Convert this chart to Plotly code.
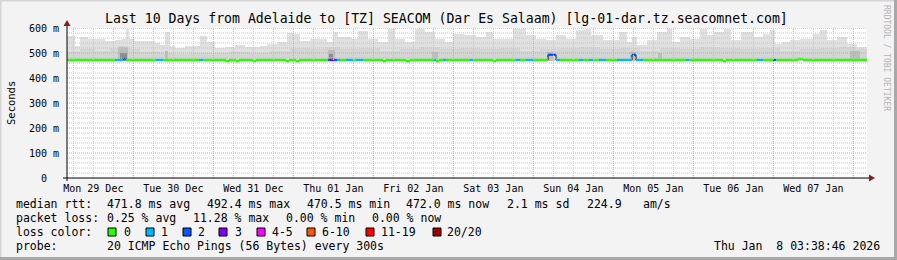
import numpy as np
import pandas as pd
import plotly.graph_objects as go

# ---------------- data (hours since 2025-12-29 00:00) ----------------
ORIGIN = pd.Timestamp("2025-12-29 00:00")
X0_H, X1_H = 4.1, 244.1

# smoke: outer (light) layer, step starts and top values (ms)
smoke_top_h = [4.1, 6.5, 8.0, 10.4, 15.5, 18.5, 20.6, 21.8, 22.7, 24.5, 30.5, 32.0, 33.5, 35.0,
               36.5, 39.5, 41.0, 44.0, 46.1, 48.5, 51.5, 54.5, 57.5, 62.0, 64.1, 67.1, 70.1,
               71.9, 74.0, 77.0, 82.1, 83.9, 85.4, 89.3, 91.4, 94.4, 97.4, 100.4, 102.5, 105.5,
               108.5, 111.5, 114.5, 117.5, 119.9, 123.5, 126.8, 129.8, 131.9, 137.9, 141.8,
               144.8, 147.8, 150.8, 153.8, 156.8, 159.8, 161.3, 164.9, 169.7, 172.1, 173.6,
               175.1, 178.1, 181.1, 184.1, 185.6, 188.0, 191.0, 194.0, 196.1, 198.2, 201.2,
               203.3, 206.3, 210.2, 212.9, 215.0, 216.5, 218.6, 221.0, 224.0, 227.9, 230.0,
               232.1, 235.1, 238.1, 241.1]
smoke_top_ms = [570, 530, 565, 555, 548, 552, 555, 598, 555, 548, 540, 532, 585, 530,
                522, 530, 528, 570, 545, 520, 525, 532, 525, 530, 535, 545, 580,
                575, 550, 555, 545, 585, 565, 555, 590, 558, 545, 596, 558, 545,
                596, 585, 558, 545, 578, 572, 565, 585, 558, 596, 572,
                558, 552, 572, 558, 592, 596, 572, 552, 585, 545, 565,
                532, 552, 585, 596, 545, 565, 558, 596, 572, 585, 596,
                552, 585, 565, 578, 592, 538, 545, 552, 558, 578, 592,
                552, 565, 538, 525]

# smoke: middle layer
smoke_mid_h = [4.1, 8.0, 12.5, 17.0, 19.4, 23.0, 26.0, 32.0, 36.5, 41.0, 53.0, 59.0, 65.0, 71.0,
               77.0, 81.5, 86.0, 92.0, 98.0, 104.0, 110.0, 116.0, 122.0, 128.0, 134.0, 140.0,
               146.0, 152.0, 158.0, 164.0, 170.0, 176.0, 182.0, 188.0, 194.0, 200.0, 206.0,
               212.0, 218.0, 224.0, 230.0, 236.0, 240.5]
smoke_mid_ms = [505, 515, 510, 520, 530, 515, 505, 500, 495, 500, 505, 500, 510, 520,
                515, 525, 515, 520, 510, 515, 525, 515, 520, 515, 520, 510,
                515, 520, 525, 515, 520, 510, 520, 515, 525, 520, 515,
                520, 510, 515, 520, 525, 515]

# smoke: dark patches (start h, end h, top ms)
dark_start_h = [19.4, 33.5, 82.4, 113.6, 148.1, 173.0, 181.4, 239.0]
dark_end_h = [22.4, 34.4, 84.5, 115.4, 149.9, 174.8, 182.6, 242.0]
dark_top_ms = [525, 510, 512, 505, 505, 505, 500, 510]
darkest_start_h = [20.0, 82.7]
darkest_end_h = [22.1, 83.9]
darkest_top_ms = [500, 495]
SMOKE_BASE = 469

# median rtt: base value and deviating segments (start h, end h, median ms, lost pings)
MED_BASE = 472
med_start_h = [18.5, 20.9, 30.8, 43.7, 51.8, 54.8, 59.9, 69.8, 72.8, 82.4, 83.0, 83.9, 85.1,
               87.8, 90.8, 98.9, 105.8, 113.9, 114.8, 116.9, 125.0, 131.9, 138.8, 141.8,
               148.4, 150.8, 157.7, 160.7, 163.7, 169.1, 173.6, 174.8, 189.8, 200.9, 211.1,
               215.9, 223.4]
med_end_h = [20.9, 21.8, 32.9, 44.9, 52.7, 55.7, 60.8, 70.7, 73.7, 83.0, 83.9, 85.1, 86.0,
             89.9, 92.9, 99.8, 107.0, 114.8, 115.7, 117.8, 125.9, 132.8, 140.0, 143.9,
             150.8, 152.0, 158.9, 161.9, 165.8, 173.6, 174.8, 176.9, 190.7, 201.8, 212.9,
             216.8, 224.9]
med_ms = [472, 478, 472, 472, 467, 467, 467, 467, 467, 472, 472, 472, 472,
          472, 472, 467, 467, 472, 467, 472, 472, 467, 472, 472,
          493, 472, 472, 472, 472, 472, 493, 472, 472, 467, 472,
          472, 476]
med_loss = [1, 2, 1, 1, 0, 0, 0, 0, 0, 2, 3, 2, 1,
            1, 1, 0, 0, 1, 0, 1, 1, 0, 1, 1,
            2, 1, 1, 1, 1, 1, 2, 1, 1, 0, 1,
            2, 0]

day_labels = ["Mon 29 Dec", "Tue 30 Dec", "Wed 31 Dec", "Thu 01 Jan", "Fri 02 Jan",
              "Sat 03 Jan", "Sun 04 Jan", "Mon 05 Jan", "Tue 06 Jan", "Wed 07 Jan"]
y_ticks = [0, 100, 200, 300, 400, 500, 600]
y_labels = ["0\u00a0\u00a0", "100 m", "200 m", "300 m", "400 m", "500 m", "600 m"]

loss_names = ["0", "1", "2", "3", "4-5", "6-10", "11-19", "20/20"]
loss_colors = ["#26ff00", "#00b8ff", "#0059ff", "#7e00ff", "#ff00ff", "#ff5500", "#ff0000", "#a10000"]


def loss_color(n):
    bounds = [0, 1, 2, 3, 5, 10, 19, 20]
    for b, c in zip(bounds, loss_colors):
        if n <= b:
            return c
    return loss_colors[-1]


def t(h):
    return ORIGIN + pd.to_timedelta(np.asarray(h, dtype=float), unit="h")


# ---------------- layout geometry ----------------
W, H = 897, 260
L, R, T, B = 67, 30, 28, 82
PW, PH = W - L - R, H - T - B
FONT = "DejaVu Sans Mono"


def px(x):
    return (x - L) / PW


def py(y):
    return (T + PH - y) / PH


fig = go.Figure()


def step_bars(starts, ends, tops, color):
    starts = np.asarray(starts, float)
    ends = np.asarray(ends, float)
    tops = np.asarray(tops, float)
    centers = t((starts + ends) / 2)
    widths = (ends - starts) * 3600 * 1000
    fig.add_trace(go.Bar(x=centers, y=tops - SMOKE_BASE, base=SMOKE_BASE, width=widths,
                         marker=dict(color=color, line=dict(width=0)), hoverinfo="skip",
                         showlegend=False))


step_bars(smoke_top_h, smoke_top_h[1:] + [X1_H], smoke_top_ms, "#e0e0e0")
step_bars(smoke_mid_h, smoke_mid_h[1:] + [X1_H], smoke_mid_ms, "#d5d5d5")
step_bars(dark_start_h, dark_end_h, dark_top_ms, "#bdbdbd")
step_bars(darkest_start_h, darkest_end_h, darkest_top_ms, "#8e8e8e")

# median segments
segs = []
cur = X0_H
for s, e, v, l in sorted(zip(med_start_h, med_end_h, med_ms, med_loss)):
    if s > cur:
        segs.append((cur, s, MED_BASE, 0))
    segs.append((s, e, v, l))
    cur = e
if cur < X1_H:
    segs.append((cur, X1_H, MED_BASE, 0))

fig.add_trace(go.Scatter(x=t([s[0] for s in segs] + [segs[-1][1]]),
                         y=[s[2] for s in segs] + [segs[-1][2]],
                         mode="lines", line=dict(color="black", width=1, shape="hv"),
                         hoverinfo="skip", showlegend=False))
groups = {}
for s, e, v, l in segs:
    c = loss_color(l)
    gx, gy = groups.setdefault(c, ([], []))
    gx += [t([s])[0], t([e])[0], None]
    gy += [v, v, None]
for c, (gx, gy) in groups.items():
    fig.add_trace(go.Scatter(x=gx, y=gy, mode="lines", line=dict(color=c, width=2.4),
                             hoverinfo="skip", showlegend=False, connectgaps=False))

shapes = []
# horizontal grid
for v in range(20, 601, 20):
    major = v % 100 == 0
    shapes.append(dict(type="line", xref="paper", yref="y", x0=0, x1=1, y0=v, y1=v,
                       line=dict(color="#e49a9a" if major else "#c4c4c4", width=1, dash="1px,1px"),
                       layer="above"))
# vertical grid every 6 h
for h in range(6, 245, 6):
    if h < X0_H or h > X1_H:
        continue
    major = h % 24 == 0
    tt = t([h])[0]
    shapes.append(dict(type="line", xref="x", yref="paper", x0=tt, x1=tt, y0=0, y1=1,
                       line=dict(color="#e49a9a" if major else "#c4c4c4", width=1, dash="1px,1px"),
                       layer="above"))
# axes with arrows
shapes.append(dict(type="line", xref="paper", yref="paper", x0=px(63), x1=px(870), y0=0, y1=0,
                   line=dict(color="black", width=1), layer="above"))
shapes.append(dict(type="line", xref="paper", yref="paper", x0=0, x1=0, y0=py(181), y1=py(24),
                   line=dict(color="black", width=1), layer="above"))
shapes.append(dict(type="path", xref="paper", yref="paper",
                   path=f"M {px(67)} {py(20)} L {px(63.5)} {py(26)} L {px(70.5)} {py(26)} Z",
                   fillcolor="#8b1c1c", line=dict(width=0), layer="above"))
shapes.append(dict(type="path", xref="paper", yref="paper",
                   path=f"M {px(875)} {py(178)} L {px(869)} {py(174.5)} L {px(869)} {py(181.5)} Z",
                   fillcolor="#8b1c1c", line=dict(width=0), layer="above"))
# frame
shapes.append(dict(type="rect", xref="paper", yref="paper", x0=px(0), x1=px(897), y0=py(0), y1=py(1.5),
                   fillcolor="#d4d4d4", line=dict(width=0), layer="below"))
shapes.append(dict(type="rect", xref="paper", yref="paper", x0=px(0), x1=px(1.5), y0=py(0), y1=py(260),
                   fillcolor="#d4d4d4", line=dict(width=0), layer="below"))
shapes.append(dict(type="rect", xref="paper", yref="paper", x0=px(0), x1=px(897), y0=py(257), y1=py(260),
                   fillcolor="#a8a8a8", line=dict(width=0), layer="below"))
shapes.append(dict(type="rect", xref="paper", yref="paper", x0=px(894), x1=px(897), y0=py(0), y1=py(260),
                   fillcolor="#a8a8a8", line=dict(width=0), layer="below"))

# legend squares
sq_x = [108, 146, 183, 219, 257, 307, 366, 433]
for xq, c in zip(sq_x, loss_colors):
    shapes.append(dict(type="rect", xref="paper", yref="paper", x0=px(xq), x1=px(xq + 8),
                       y0=py(228), y1=py(236), fillcolor=c, line=dict(color="black", width=1),
                       layer="above"))

annotations = []


def ann(x, y, text, size=11.5, anchor="left", color="black", angle=0, yanchor="middle"):
    annotations.append(dict(x=px(x), y=py(y), xref="paper", yref="paper", text=text,
                            showarrow=False, xanchor=anchor, yanchor=yanchor, textangle=angle,
                            borderpad=0, borderwidth=0,
                            font=dict(family=FONT, size=size, color=color)))


ann(446, 18, "Last 10 Days from Adelaide to [TZ] SEACOM (Dar Es Salaam) [lg-01-dar.tz.seacomnet.com]",
    size=13.2, anchor="center")
ann(11, 103, "Seconds", size=10.5, anchor="center", angle=-90)
ann(887, 5, "RRDTOOL / TOBI OETIKER", size=8, anchor="center", color="#b4b4b4", angle=90, yanchor="top")

line1 = [("median rtt:", 16), ("471.8 ms avg", 107), ("492.4 ms max", 207), ("470.5 ms min", 307),
         ("472.0 ms now", 406), ("2.1 ms sd", 507), ("224.9", 587), ("am/s", 643)]
line2 = [("packet loss:", 16), ("0.25 % avg", 107), ("11.28 % max", 193), ("0.00 % min", 286),
         ("0.00 % now", 372)]
for txt, x in line1:
    ann(x, 204, txt)
for txt, x in line2:
    ann(x, 218, txt)
ann(16, 232, "loss color:")
lbl_x = [124, 161, 198, 235, 272, 322, 381, 447]
for txt, x in zip(loss_names, lbl_x):
    ann(x, 232, txt)
ann(16, 246, "probe:")
ann(107, 246, "20 ICMP Echo Pings (56 Bytes) every 300s")
ann(880, 246, "Thu Jan\u00a0\u00a08 03:38:46 2026", anchor="right")

fig.update_layout(
    width=W, height=H, margin=dict(l=L, r=R, t=T, b=B, pad=0),
    paper_bgcolor="#f3f3f3", plot_bgcolor="white",
    barmode="overlay", bargap=0, showlegend=False,
    shapes=shapes, annotations=annotations,
    font=dict(family=FONT, size=10, color="black"),
    xaxis=dict(type="date", range=[t([X0_H])[0], t([X1_H])[0]], showgrid=False, zeroline=False,
               showline=False, tickmode="array", tickvals=t(np.arange(10) * 24 + 12),
               ticktext=day_labels, ticks="", ticklabelstandoff=3,
               tickfont=dict(family=FONT, size=10, color="black"), fixedrange=True),
    yaxis=dict(range=[0, 600], showgrid=False, zeroline=False, showline=False,
               tickmode="array", tickvals=y_ticks, ticktext=y_labels, ticks="",
               ticklabelstandoff=7, tickfont=dict(family=FONT, size=10, color="black"),
               fixedrange=True),
)

fig.write_html("out.html")
